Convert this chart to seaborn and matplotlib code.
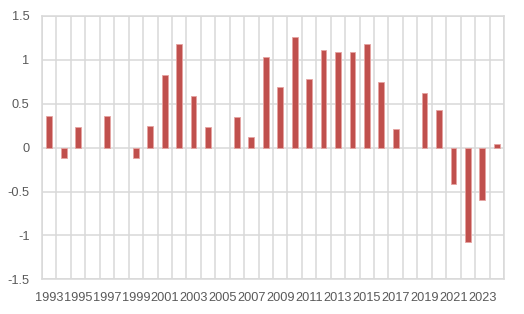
import matplotlib
matplotlib.use("Agg")
import matplotlib.pyplot as plt
import seaborn as sns
import pandas as pd

years = list(range(1993, 2025))
values = [0.36, -0.12, 0.24, 0.0, 0.355, 0.0, -0.12, 0.245, 0.83, 1.185,
          0.585, 0.23, 0.0, 0.347, 0.118, 1.038, 0.687, 1.262, 0.779, 1.11,
          1.095, 1.088, 1.185, 0.744, 0.21, 0.0, 0.625, 0.424, -0.417, -1.073,
          -0.596, 0.042]
yticks = [-1.5, -1, -0.5, 0, 0.5, 1, 1.5]
ytick_labels = ["-1.5", "-1", "-0.5", "0", "0.5", "1", "1.5"]

sns.set_style("white")
plt.rcParams['font.family'] = ['Liberation Sans', 'DejaVu Sans']

df = pd.DataFrame({"year": [str(y) for y in years], "value": values})

fig = plt.figure(figsize=(5.24, 3.14), dpi=100)
ax = fig.add_axes([42/524, 1 - 279.3/314, (504 - 42)/524, (279.3 - 16)/314])

grid_c = "#D9D9D9"
sns.barplot(data=df, x="year", y="value", order=df["year"].tolist(),
            color="#C0504D", saturation=1, width=0.4, edgecolor="#E6A3A1",
            linewidth=0.6, ax=ax, zorder=3)
for p in ax.patches:
    if abs(p.get_height()) < 1e-9:
        p.set_linewidth(0)
        p.set_visible(False)

n = len(years)
ax.set_xlim(-0.5, n - 0.5)
ax.set_ylim(-1.5, 1.5)
ax.set_yticks(yticks)
ax.set_yticklabels(ytick_labels)

label_pos = [i for i, y in enumerate(years) if y % 2 == 1]
ax.set_xticks(label_pos)
ax.set_xticklabels([str(years[i]) for i in label_pos])
ax.set_xticks([i - 0.5 for i in range(n + 1)], minor=True)

ax.grid(True, axis="y", which="major", color=grid_c, linewidth=1.1, zorder=0)
ax.grid(True, axis="x", which="minor", color=grid_c, linewidth=1.1, zorder=0)
ax.grid(False, axis="x", which="major")
ax.set_axisbelow(True)

for s in ax.spines.values():
    s.set_color(grid_c)
    s.set_linewidth(1.1)

ax.tick_params(axis="both", which="both", length=0, labelsize=9.2,
               labelcolor="#595959")
ax.tick_params(axis="y", pad=9)
ax.tick_params(axis="x", pad=9)
ax.set_xlabel("")
ax.set_ylabel("")

fig.savefig("out.png", dpi=100)
